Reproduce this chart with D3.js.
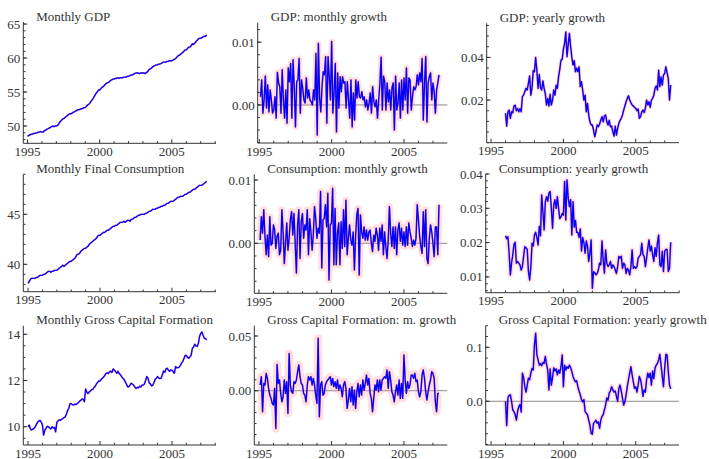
<!DOCTYPE html>
<html><head><meta charset="utf-8">
<script src="https://cdn.jsdelivr.net/npm/d3@7"></script>
<style>
body{margin:0;background:#fff;}
svg{display:block;}
text{font-family:"Liberation Serif","Times New Roman",serif;font-size:13px;fill:#333;}
</style>
</head><body><svg id="c" width="709" height="459"></svg>
<script>
// ---------- DATA ----------
// monthly levels, Jan 1995 - Jun 2007
const gdpLevel = [
48.5,48.6,48.7,48.8,48.8,48.9,48.9,49.0,49.0,49.1,49.1,49.2,
49.1,49.1,49.3,49.4,49.5,49.6,49.7,49.8,49.9,50.0,49.9,50.0,
50.0,50.1,50.3,50.6,50.8,51.0,51.1,51.2,51.4,51.5,51.7,51.8,
51.8,51.9,52.0,52.1,52.2,52.3,52.4,52.4,52.5,52.5,52.6,52.7,
52.7,52.9,53.1,53.2,53.4,53.7,53.9,54.2,54.5,54.8,55.0,55.3,
55.3,55.5,55.7,55.8,56.0,56.2,56.3,56.4,56.5,56.7,56.8,56.9,
56.9,57.0,57.0,57.1,57.0,57.1,57.1,57.1,57.2,57.2,57.2,57.3,
57.3,57.4,57.5,57.5,57.6,57.7,57.8,57.8,57.8,57.7,57.8,57.8,
57.8,57.8,57.7,57.9,58.0,58.3,58.4,58.5,58.7,58.8,58.9,59.0,
59.0,59.1,59.1,59.2,59.3,59.4,59.4,59.4,59.5,59.5,59.6,59.6,
59.6,59.7,59.8,59.9,60.1,60.3,60.4,60.5,60.7,60.8,61.0,61.2,
61.2,61.4,61.6,61.6,61.8,62.1,62.0,62.2,62.4,62.6,62.8,62.9,
62.9,63.0,63.1,63.2,63.2,63.4];
const consLevel = [
38.1,38.3,38.5,38.6,38.6,38.6,38.6,38.7,38.7,38.8,38.9,38.9,
38.9,39.0,39.0,39.1,39.2,39.3,39.3,39.2,39.3,39.3,39.4,39.4,
39.4,39.5,39.6,39.7,39.8,39.9,39.8,39.9,40.0,40.1,40.2,40.3,
40.3,40.4,40.5,40.6,40.8,41.0,41.0,41.1,41.3,41.4,41.5,41.6,
41.6,41.7,41.8,42.0,42.1,42.2,42.3,42.4,42.5,42.6,42.8,42.9,
42.9,43.0,43.1,43.2,43.2,43.3,43.4,43.4,43.5,43.6,43.7,43.8,
43.8,43.9,43.9,44.0,44.1,44.2,44.2,44.2,44.3,44.2,44.3,44.4,
44.4,44.3,44.5,44.5,44.6,44.7,44.7,44.8,44.9,44.9,45.0,45.0,
45.0,45.0,45.1,45.1,45.2,45.3,45.3,45.4,45.5,45.5,45.5,45.6,
45.6,45.7,45.7,45.8,45.8,45.9,45.9,46.0,46.1,46.1,46.2,46.3,
46.3,46.3,46.4,46.5,46.6,46.7,46.7,46.8,46.8,46.8,46.9,47.0,
47.0,47.1,47.2,47.2,47.3,47.4,47.5,47.5,47.6,47.7,47.8,47.9,
47.9,47.9,48.0,48.1,48.2,48.3];
const gcfLevel = [
10.0,10.07,9.9,9.86,9.9,9.93,10.0,10.1,10.2,10.25,10.27,10.2,
10.07,9.64,9.85,9.93,10.02,10.0,9.95,9.9,10.0,9.95,9.97,9.78,
10.2,10.25,10.3,10.28,10.32,10.36,10.4,10.43,10.55,10.7,10.8,11.0,
11.0,10.95,10.94,10.98,10.96,11.0,11.05,11.1,11.15,11.2,11.18,11.08,
11.63,11.5,11.44,11.5,11.55,11.6,11.62,11.7,11.75,11.85,11.92,11.98,
11.98,12.05,12.1,12.15,12.22,12.31,12.33,12.3,12.38,12.4,12.35,12.5,
12.45,12.38,12.31,12.4,12.3,12.25,12.17,12.1,12.05,11.95,11.85,11.73,
11.73,11.8,11.88,11.85,11.8,11.72,11.66,11.7,11.68,11.75,11.72,11.8,
11.8,11.85,12.0,12.17,12.1,11.9,11.85,11.77,11.8,11.9,12.05,12.1,
12.17,12.1,12.08,12.1,12.25,12.41,12.35,12.5,12.53,12.45,12.4,12.45,
12.45,12.38,12.31,12.6,12.55,12.56,12.58,12.65,12.75,12.82,12.95,13.08,
13.08,13.0,12.96,13.02,13.1,13.39,13.45,13.57,13.5,13.47,13.6,13.9,
14.04,14.1,13.95,13.83,13.8,13.75];

// monthly growth, Feb 1995 - Jun 2007
const gdpMonthly = [
0.0013,0.0040,-0.0013,0.0008,0.0046,-0.0005,0.0032,-0.0011,0.0024,0.0008,
-0.0013,-0.0008,0.0013,-0.0021,0.0052,0.0035,0.0029,-0.0013,0.0056,0.0008,
-0.0021,0.0024,-0.0029,0.0059,0.0037,0.0066,-0.0021,0.0072,0.0029,-0.0035,
0.0037,0.0040,0.0074,-0.0013,0.0040,0.0027,0.0008,0.0003,0.0043,0.0011,
0.0024,0.0008,0.0005,0.0000,0.0024,0.0008,0.0082,-0.0048,0.0098,0.0011,
-0.0011,0.0029,0.0053,0.0048,0.0077,-0.0029,0.0077,0.0045,0.0008,0.0101,
-0.0013,0.0019,0.0066,-0.0043,0.0051,-0.0005,0.0045,0.0021,0.0045,0.0035,
0.0037,-0.0005,0.0037,0.0008,-0.0021,0.0040,-0.0035,0.0019,-0.0024,0.0040,
0.0011,0.0037,0.0013,0.0011,0.0021,0.0008,0.0013,-0.0003,0.0008,-0.0008,
0.0003,0.0019,-0.0013,0.0029,0.0005,-0.0003,0.0008,-0.0021,0.0008,0.0035,
0.0076,-0.0008,0.0046,0.0037,-0.0008,0.0035,0.0005,0.0024,-0.0008,0.0027,
0.0035,-0.0040,0.0046,-0.0008,0.0003,0.0035,-0.0021,0.0040,-0.0008,0.0043,
0.0008,0.0059,-0.0013,0.0043,0.0040,-0.0008,0.0013,0.0029,0.0024,0.0029,
0.0048,0.0032,0.0051,0.0037,0.0074,-0.0024,0.0035,0.0077,-0.0027,0.0035,
0.0045,0.0051,0.0008,0.0035,0.0021,-0.0013,0.0024,0.0035,0.0048];
const consMonthly = [
0.0005,0.0042,0.0016,0.0053,0.0011,-0.0018,0.0013,-0.0021,0.0042,-0.0003,
0.0000,0.0029,0.0021,-0.0008,0.0011,0.0016,-0.0018,-0.0011,0.0053,0.0018,
-0.0032,0.0000,0.0032,-0.0011,0.0008,0.0037,0.0050,0.0013,0.0047,0.0000,
-0.0047,0.0029,0.0053,-0.0024,0.0034,0.0047,0.0008,0.0029,0.0021,0.0053,
-0.0018,0.0039,0.0018,-0.0011,0.0013,0.0058,0.0039,0.0008,0.0024,0.0016,
0.0082,-0.0039,0.0037,0.0039,0.0061,0.0026,0.0079,-0.0058,0.0029,0.0032,
0.0087,-0.0034,0.0055,-0.0034,0.0016,0.0032,-0.0034,0.0034,-0.0008,0.0053,
-0.0005,0.0068,-0.0018,0.0008,0.0029,0.0005,-0.0003,0.0018,-0.0042,0.0011,
0.0045,0.0055,-0.0050,0.0045,0.0018,0.0008,0.0026,0.0005,0.0021,0.0005,
0.0018,0.0021,0.0000,-0.0013,0.0013,0.0003,0.0024,0.0013,-0.0011,0.0024,
0.0003,0.0029,-0.0018,0.0018,-0.0005,-0.0024,0.0005,0.0058,0.0016,-0.0005,
0.0026,-0.0008,0.0026,-0.0018,0.0021,0.0032,0.0003,0.0024,-0.0003,0.0018,
-0.0005,0.0026,-0.0003,0.0032,0.0018,0.0008,-0.0005,0.0005,-0.0003,0.0008,
0.0061,0.0037,0.0011,-0.0005,-0.0016,0.0050,-0.0005,0.0053,-0.0024,-0.0032,
0.0008,0.0029,0.0018,0.0000,-0.0021,0.0026,0.0026,-0.0018,0.0061];
const gcfMonthly = [
0.0052,0.0128,-0.0192,0.0067,0.0052,0.0159,0.0113,0.0021,-0.0040,-0.0070,
-0.0116,-0.0131,0.0021,-0.0345,0.0241,0.0067,0.0098,-0.0024,-0.0101,-0.0055,
0.0098,-0.0024,0.0082,-0.0207,0.0341,0.0052,-0.0009,-0.0024,0.0082,0.0067,
0.0098,0.0174,0.0235,0.0128,0.0067,0.0052,-0.0024,-0.0040,-0.0101,0.0052,
0.0128,0.0098,0.0128,0.0052,0.0113,0.0052,-0.0040,-0.0116,0.0479,-0.0238,
0.0052,0.0082,-0.0040,-0.0024,0.0052,0.0082,0.0098,0.0113,0.0128,0.0052,
0.0113,0.0037,0.0082,0.0021,0.0098,0.0006,0.0052,0.0021,-0.0055,0.0052,
0.0082,0.0021,-0.0162,-0.0085,0.0021,-0.0101,0.0037,-0.0131,0.0006,-0.0162,
-0.0009,0.0067,-0.0055,0.0052,-0.0040,0.0098,0.0006,0.0067,0.0143,0.0052,
0.0113,-0.0024,-0.0070,-0.0192,-0.0070,0.0052,0.0006,0.0098,-0.0009,0.0098,
0.0006,0.0098,0.0113,0.0128,0.0113,0.0189,0.0021,0.0174,0.0098,-0.0009,
-0.0040,-0.0101,-0.0009,0.0052,-0.0040,0.0098,-0.0070,0.0067,-0.0070,0.0326,
0.0098,-0.0024,0.0082,0.0021,0.0052,0.0143,0.0143,0.0113,0.0159,0.0082,
0.0098,-0.0009,-0.0055,-0.0009,0.0143,0.0189,0.0113,-0.0009,-0.0085,-0.0009,
0.0052,0.0098,0.0174,0.0159,0.0113,-0.0101,-0.0192,-0.0024,-0.0024];

// yearly growth, Jan 1996 - Jun 2007
const gdpYearly = [
0.0138,0.0078,0.0145,0.0153,0.0114,0.0145,0.0140,0.0172,0.0176,0.0150,0.0160,0.0145,
0.0160,0.0145,0.0216,0.0223,0.0240,0.0255,0.0247,0.0278,0.0313,0.0223,0.0258,0.0338,
0.0333,0.0400,0.0340,0.0255,0.0320,0.0258,0.0247,0.0290,0.0255,0.0230,0.0177,0.0208,
0.0172,0.0227,0.0177,0.0200,0.0247,0.0223,0.0270,0.0255,0.0310,0.0344,0.0388,0.0391,
0.0438,0.0466,0.0519,0.0403,0.0460,0.0513,0.0450,0.0400,0.0364,0.0385,0.0333,0.0350,
0.0333,0.0356,0.0263,0.0286,0.0247,0.0200,0.0223,0.0145,0.0184,0.0130,0.0098,0.0083,
0.0083,0.0060,0.0028,0.0052,0.0083,0.0075,0.0087,0.0105,0.0122,0.0098,0.0125,0.0130,
0.0098,0.0083,0.0105,0.0075,0.0078,0.0052,0.0031,0.0078,0.0036,0.0067,0.0091,0.0105,
0.0114,0.0130,0.0153,0.0172,0.0192,0.0208,0.0220,0.0200,0.0188,0.0177,0.0172,0.0166,
0.0161,0.0150,0.0158,0.0114,0.0122,0.0145,0.0153,0.0141,0.0161,0.0200,0.0177,0.0192,
0.0166,0.0200,0.0208,0.0223,0.0255,0.0266,0.0247,0.0340,0.0263,0.0309,0.0270,0.0317,
0.0325,0.0356,0.0328,0.0300,0.0200,0.0270];
const consYearly = [
0.0220,0.0211,0.0217,0.0169,0.0106,0.0140,0.0164,0.0195,0.0201,0.0140,0.0145,0.0140,
0.0135,0.0120,0.0130,0.0159,0.0188,0.0185,0.0180,0.0116,0.0091,0.0130,0.0198,0.0190,
0.0222,0.0230,0.0215,0.0193,0.0247,0.0220,0.0339,0.0290,0.0237,0.0319,0.0334,0.0320,
0.0344,0.0349,0.0300,0.0242,0.0310,0.0325,0.0300,0.0334,0.0300,0.0270,0.0275,0.0285,
0.0280,0.0378,0.0266,0.0383,0.0330,0.0305,0.0325,0.0222,0.0319,0.0245,0.0265,0.0230,
0.0230,0.0215,0.0240,0.0176,0.0215,0.0200,0.0169,0.0205,0.0190,0.0145,0.0170,0.0208,
0.0067,0.0115,0.0112,0.0106,0.0110,0.0120,0.0140,0.0135,0.0205,0.0150,0.0111,0.0179,
0.0140,0.0130,0.0135,0.0145,0.0125,0.0135,0.0130,0.0120,0.0110,0.0130,0.0160,0.0155,
0.0160,0.0125,0.0140,0.0135,0.0110,0.0125,0.0120,0.0106,0.0130,0.0179,0.0125,0.0130,
0.0125,0.0130,0.0155,0.0160,0.0165,0.0198,0.0165,0.0160,0.0130,0.0155,0.0185,0.0208,
0.0175,0.0190,0.0165,0.0145,0.0185,0.0160,0.0200,0.0222,0.0135,0.0130,0.0175,0.0116,
0.0175,0.0180,0.0180,0.0116,0.0125,0.0201];
const gcfYearly = [
0.000,-0.045,0.006,0.011,0.012,0.000,-0.016,-0.019,-0.025,-0.035,-0.019,-0.010,
-0.006,-0.020,0.052,0.044,0.027,0.017,0.030,0.043,0.040,0.052,0.061,0.058,
0.104,0.126,0.086,0.077,0.067,0.070,0.066,0.072,0.070,0.083,0.069,0.058,
0.021,0.060,0.030,0.044,0.062,0.056,0.060,0.049,0.058,0.052,0.064,0.086,
0.027,0.067,0.058,0.064,0.061,0.067,0.062,0.055,0.046,0.040,0.036,0.038,
0.027,0.019,0.012,0.003,-0.001,0.003,-0.019,-0.022,-0.025,-0.035,-0.044,-0.059,
-0.061,-0.041,-0.038,-0.035,-0.041,-0.038,-0.050,-0.035,-0.028,-0.025,-0.016,-0.007,
0.006,0.002,0.015,0.019,0.027,0.021,0.017,0.019,0.009,0.000,0.024,0.030,
0.019,0.006,-0.007,-0.001,0.012,0.027,0.040,0.052,0.064,0.049,0.036,0.024,
0.027,0.017,0.030,0.046,0.040,0.027,0.009,0.021,0.017,0.040,0.052,0.044,
0.052,0.030,0.056,0.042,0.061,0.067,0.070,0.077,0.087,0.067,0.046,0.027,
0.061,0.087,0.086,0.055,0.030,0.023];

const titles = ["Monthly GDP","GDP: monthly growth","GDP: yearly growth",
  "Monthly Final Consumption","Consumption: monthly growth","Consumption: yearly growth",
  "Monthly Gross Capital Formation","Gross Capital Formation: m. growth","Gross Capital Formation: yearly growth"];
const xTickLabels = [1995, 2000, 2005];

// series start (decimal year of the first monthly observation)
const startLevel = 1995, startMonthly = 1995 + 1/12, startYearly = 1996;

// ---------- LAYOUT ----------
const panels = [
 {data:gdpLevel, start:startLevel, L:23.3, R:216, x0:1994.71, x1:2008.06, T:22, B:143.3, y0:47.46, y1:65.3, majors:[50,55,60,65], minor:1, fmt:d3.format("d"), zero:false, band:0},
 {data:gdpMonthly, start:startMonthly, L:257.7, R:447.3, x0:1994.89, x1:2007.99, T:22.7, B:143, y0:-0.00606, y1:0.0131, majors:[0,0.01], minor:0.002, fmt:d3.format(".2f"), zero:true, band:6},
 {data:gdpYearly, start:startYearly, L:486.7, R:679, x0:1994.70, x1:2007.99, T:23.3, B:142.7, y0:0.0, y1:0.056, majors:[0.02,0.04], minor:0.005, fmt:d3.format(".2f"), zero:false, band:3.5},
 {data:consLevel, start:startLevel, L:23.3, R:216, x0:1994.67, x1:2008.06, T:174.3, B:291.7, y0:37.26, y1:49.0, majors:[40,45], minor:1, fmt:d3.format("d"), zero:false, band:0},
 {data:consMonthly, start:startMonthly, L:254.3, R:447.3, x0:1994.68, x1:2007.99, T:174.3, B:293.3, y0:-0.0079, y1:0.0109, majors:[0,0.01], minor:0.002, fmt:d3.format(".2f"), zero:true, band:7},
 {data:consYearly, start:startYearly, L:485.7, R:679.3, x0:1994.63, x1:2008.01, T:174, B:292.7, y0:0.0054, y1:0.04, majors:[0.01,0.02,0.03,0.04], minor:0.002, fmt:d3.format(".2f"), zero:false, band:5},
 {data:gcfLevel, start:startLevel, L:23.3, R:216, x0:1994.67, x1:2008.06, T:325.7, B:445, y0:9.21, y1:14.37, majors:[10,12,14], minor:0.5, fmt:d3.format("d"), zero:false, band:0},
 {data:gcfMonthly, start:startMonthly, L:254.3, R:447.3, x0:1994.68, x1:2007.99, T:325.7, B:445, y0:-0.0496, y1:0.0594, majors:[0,0.05], minor:0.01, fmt:d3.format(".2f"), zero:true, band:8},
 {data:gcfYearly, start:startYearly, L:485.7, R:679, x0:1994.63, x1:2007.99, T:325.7, B:445, y0:-0.081, y1:0.14, majors:[0,0.1], minor:0.02, fmt:d3.format(".1f"), zero:true, band:5}
];

const svg = d3.select("#c");
const axisColor = "#333";

panels.forEach((p, i) => {
  const x = d3.scaleLinear().domain([p.x0, p.x1]).range([p.L, p.R]);
  const y = d3.scaleLinear().domain([p.y0, p.y1]).range([p.B, p.T]);
  const g = svg.append("g");
  const pts = p.data.map((v, k) => [p.start + k / 12, v]);
  const line = d3.line().x(d => x(d[0])).y(d => y(d[1]));

  // zero reference line
  if (p.zero) {
    g.append("line").attr("x1", p.L).attr("x2", p.R).attr("y1", y(0)).attr("y2", y(0))
      .attr("stroke", "#8a8a8a").attr("stroke-width", 1);
  }
  // confidence band (pink halo) and red estimate beneath the blue series
  if (p.band) {
    g.append("path").datum(pts).attr("d", line).attr("fill", "none")
      .attr("stroke", "#ff9a9a").attr("stroke-opacity", 0.32).attr("stroke-width", p.band)
      .attr("stroke-linejoin", "round");
  }
  g.append("path").datum(pts).attr("d", line).attr("fill", "none")
    .attr("stroke", "#ff4040").attr("stroke-opacity", 0.4).attr("stroke-width", 1.9)
    .attr("stroke-linejoin", "round");
  g.append("path").datum(pts).attr("d", line).attr("fill", "none")
    .attr("stroke", "#0000ff").attr("stroke-width", 1.35).attr("stroke-linejoin", "round");

  // axes lines
  g.append("line").attr("x1", p.L).attr("x2", p.L).attr("y1", p.T).attr("y2", p.B)
    .attr("stroke", axisColor).attr("stroke-width", 1);
  g.append("line").attr("x1", p.L).attr("x2", p.R).attr("y1", p.B).attr("y2", p.B)
    .attr("stroke", axisColor).attr("stroke-width", 1);

  // x ticks: minor every year, major/labels at 1995, 2000, 2005
  const yrs = d3.range(Math.ceil(p.x0), Math.floor(p.x1) + 1);
  yrs.forEach(yr => {
    const major = xTickLabels.includes(yr);
    g.append("line").attr("x1", x(yr)).attr("x2", x(yr)).attr("y1", p.B).attr("y2", p.B - (major ? 4 : 2.2))
      .attr("stroke", axisColor).attr("stroke-width", 1);
  });
  xTickLabels.forEach(yr => {
    g.append("text").attr("x", x(yr)).attr("y", p.B + 12.5).attr("text-anchor", "middle").text(yr);
  });

  // y ticks
  const kLo = Math.ceil(p.y0 / p.minor - 1e-9), kHi = Math.floor(p.y1 / p.minor + 1e-9);
  d3.range(kLo, kHi + 1).forEach(k => {
    const v = k * p.minor;
    g.append("line").attr("x1", p.L).attr("x2", p.L + 2.2).attr("y1", y(v)).attr("y2", y(v))
      .attr("stroke", axisColor).attr("stroke-width", 1);
  });
  p.majors.forEach(v => {
    g.append("line").attr("x1", p.L).attr("x2", p.L + 4).attr("y1", y(v)).attr("y2", y(v))
      .attr("stroke", axisColor).attr("stroke-width", 1);
    g.append("text").attr("x", p.L - 3).attr("y", y(v)).attr("dy", "0.35em")
      .attr("text-anchor", "end").text(p.fmt(v));
  });

  // title
  g.append("text").attr("x", p.L + 13).attr("y", p.T - 1.5).text(titles[i]);
});
</script>
</body></html>
